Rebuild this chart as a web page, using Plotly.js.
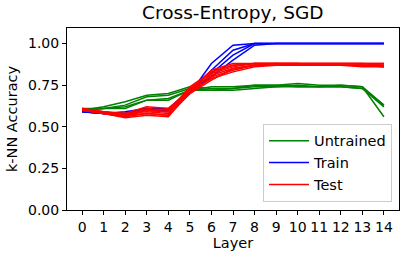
<!DOCTYPE html>
<html>
<head>
<meta charset="utf-8">
<script src="https://cdn.plot.ly/plotly-3.0.1.min.js"></script>
<style>html,body{margin:0;padding:0;background:#fff;}#chart{width:407px;height:257px;}</style>
</head>
<body>
<div id="chart"></div>
<script>
const layers = [0,1,2,3,4,5,6,7,8,9,10,11,12,13,14];
const tickLabels = ["0","1","2","3","4","5","6","7","8","9","10","11","12","13","14"];
const yTicks = [0, 0.25, 0.5, 0.75, 1.0];
const yTickLabels = ["0.00","0.25","0.50","0.75","1.00"];

const untrained = [
  [0.60,0.62,0.65,0.69,0.70,0.74,0.73,0.73,0.75,0.75,0.76,0.75,0.75,0.74,0.63],
  [0.60,0.61,0.63,0.68,0.69,0.73,0.72,0.73,0.74,0.74,0.75,0.74,0.74,0.73,0.62],
  [0.61,0.61,0.62,0.66,0.67,0.72,0.74,0.74,0.75,0.75,0.74,0.74,0.75,0.74,0.56],
  [0.60,0.61,0.61,0.66,0.66,0.72,0.72,0.72,0.73,0.74,0.74,0.74,0.74,0.73,0.63]
];
const train = [
  [0.59,0.58,0.57,0.60,0.59,0.70,0.88,0.99,1.00,1.00,1.00,1.00,1.00,1.00,1.00],
  [0.59,0.58,0.58,0.61,0.60,0.71,0.84,0.96,1.00,1.00,1.00,1.00,1.00,1.00,1.00],
  [0.59,0.58,0.58,0.60,0.60,0.70,0.82,0.93,1.00,1.00,1.00,1.00,1.00,1.00,1.00],
  [0.60,0.58,0.59,0.61,0.61,0.72,0.80,0.90,0.99,1.00,1.00,1.00,1.00,1.00,1.00]
];
const test = [
  [0.61,0.59,0.58,0.62,0.61,0.72,0.84,0.88,0.88,0.88,0.88,0.88,0.88,0.88,0.88],
  [0.60,0.59,0.57,0.61,0.60,0.73,0.83,0.87,0.88,0.88,0.88,0.88,0.88,0.88,0.87],
  [0.61,0.58,0.56,0.60,0.59,0.71,0.82,0.86,0.88,0.88,0.88,0.87,0.87,0.87,0.87],
  [0.60,0.59,0.58,0.59,0.58,0.72,0.81,0.85,0.87,0.88,0.87,0.87,0.87,0.87,0.87],
  [0.61,0.58,0.56,0.58,0.57,0.70,0.80,0.84,0.87,0.87,0.87,0.87,0.87,0.87,0.86],
  [0.60,0.58,0.555,0.57,0.56,0.71,0.79,0.83,0.86,0.87,0.87,0.87,0.87,0.87,0.86],
  [0.61,0.59,0.57,0.60,0.59,0.74,0.83,0.87,0.88,0.88,0.88,0.88,0.88,0.88,0.88],
  [0.60,0.58,0.57,0.58,0.57,0.70,0.78,0.85,0.87,0.87,0.87,0.87,0.87,0.86,0.86]
];

const traces = [];
function addGroup(rows, name, color) {
  rows.forEach((r, i) => {
    traces.push({
      x: layers, y: r, type: 'scatter', mode: 'lines',
      name: name, showlegend: i === 0,
      line: {color: color, width: 1.5}
    });
  });
}
addGroup(untrained, 'Untrained', 'green');
addGroup(train, 'Train', 'blue');
addGroup(test, 'Test', 'red');

const font = {family: 'DejaVu Sans', color: '#000'};
const layout = {
  width: 407, height: 257,
  margin: {l: 67, r: 8, t: 28, b: 47, pad: 0},
  paper_bgcolor: '#fff', plot_bgcolor: '#fff',
  font: Object.assign({size: 14}, font),
  title: {text: 'Cross-Entropy, SGD', font: Object.assign({size: 18.5}, font), x: 0.572, xanchor: 'center', y: 0.95, yanchor: 'middle'},
  xaxis: {
    range: [-0.7, 14.7], tickvals: layers, ticktext: tickLabels,
    showgrid: false, zeroline: false, showline: true, mirror: true,
    linecolor: '#000', linewidth: 1, ticks: 'outside', ticklen: 4, tickcolor: '#000',
    tickfont: Object.assign({size: 14}, font),
    title: {text: 'Layer', font: Object.assign({size: 14.5}, font), standoff: 4}
  },
  yaxis: {
    range: [0, 1.0935], tickvals: yTicks, ticktext: yTickLabels,
    showgrid: false, zeroline: false, showline: true, mirror: true,
    linecolor: '#000', linewidth: 1, ticks: 'outside', ticklen: 4, tickcolor: '#000',
    tickfont: Object.assign({size: 14}, font),
    title: {text: 'k-NN Accuracy', font: Object.assign({size: 14.5}, font), standoff: 6}
  },
  legend: {
    x: 0.979, y: 0.045, xanchor: 'right', yanchor: 'bottom',
    bgcolor: 'rgba(255,255,255,0.8)', bordercolor: '#ccc', borderwidth: 1,
    font: Object.assign({size: 14.5}, font), tracegroupgap: 0,
    itemwidth: 40
  },
  showlegend: true
};
Plotly.newPlot('chart', traces, layout, {displayModeBar: false, staticPlot: true});
</script>
</body>
</html>
